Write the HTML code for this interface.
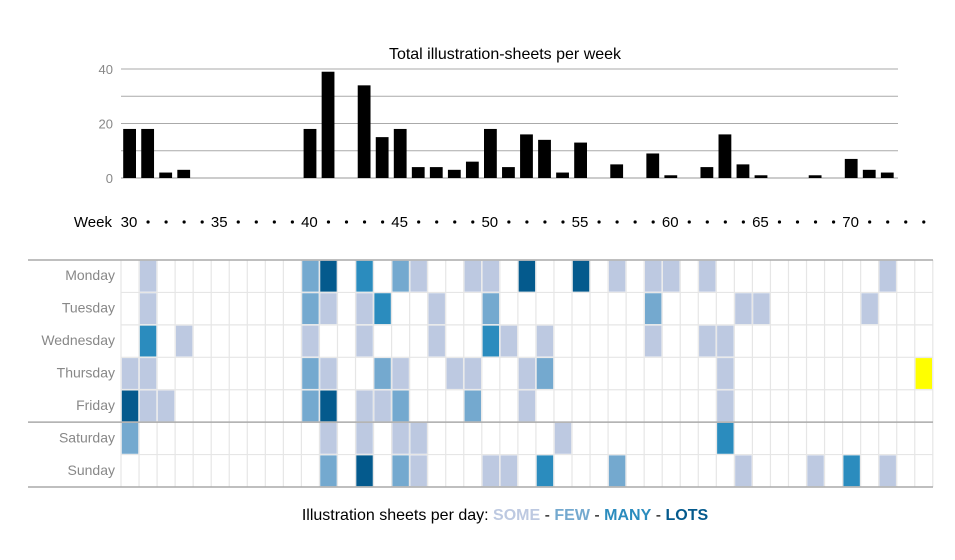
<!DOCTYPE html>
<html><head><meta charset="utf-8">
<style>
html,body{margin:0;padding:0;background:#fff;}
svg{display:block;font-family:"Liberation Sans",Arial,sans-serif;}
</style></head>
<body>
<svg id="chart" width="955" height="560" viewBox="0 0 955 560" xmlns="http://www.w3.org/2000/svg">
<text x="505" y="59" text-anchor="middle" font-size="16" fill="#000">Total illustration-sheets per week</text>
<g id="bars-grid"></g>
<g id="bars"></g>
<g id="week-axis"></g>
<g id="heat"></g>
<text x="505" y="520" text-anchor="middle" font-size="16" fill="#000">Illustration sheets per day: <tspan font-weight="bold" fill="#bdc9e1">SOME</tspan> - <tspan font-weight="bold" fill="#74a9cf">FEW</tspan> - <tspan font-weight="bold" fill="#2b8cbe">MANY</tspan> - <tspan font-weight="bold" fill="#045a8d">LOTS</tspan></text>
</svg>
<script>
const weeks = [];
for (let w = 30; w <= 74; w++) weeks.push(w);
const barWeeks = [30,31,32,33,40,41,43,44,45,46,47,48,49,50,51,52,53,54,55,57,59,60,62,63,64,65,68,70,71,72];
const barValues = [18,18,2,3,18,39,34,15,18,4,4,3,6,18,4,16,14,2,13,5,9,1,4,16,5,1,1,7,3,2];
const yTicks = [0,10,20,30,40];
const yTickLabels = ["0","","20","","40"];
const days = ["Monday","Tuesday","Wednesday","Thursday","Friday","Saturday","Sunday"];
// cells: [weekIndex(0=week30), dayIndex, level 1..4, 5=highlight]
const cells = [
 [1,0,1],[10,0,2],[11,0,4],[13,0,3],[15,0,2],[16,0,1],[19,0,1],[20,0,1],[22,0,4],[25,0,4],[27,0,1],[29,0,1],[30,0,1],[32,0,1],[42,0,1],
 [1,1,1],[10,1,2],[11,1,1],[13,1,1],[14,1,3],[17,1,1],[20,1,2],[29,1,2],[34,1,1],[35,1,1],[41,1,1],
 [1,2,3],[3,2,1],[10,2,1],[13,2,1],[17,2,1],[20,2,3],[21,2,1],[23,2,1],[29,2,1],[32,2,1],[33,2,1],
 [0,3,1],[1,3,1],[10,3,2],[11,3,1],[14,3,2],[15,3,1],[18,3,1],[19,3,1],[22,3,1],[23,3,2],[33,3,1],[44,3,5],
 [0,4,4],[1,4,1],[2,4,1],[10,4,2],[11,4,4],[13,4,1],[14,4,1],[15,4,2],[19,4,2],[22,4,1],[33,4,1],
 [0,5,2],[11,5,1],[13,5,1],[15,5,1],[16,5,1],[24,5,1],[33,5,3],
 [11,6,2],[13,6,4],[15,6,2],[16,6,1],[20,6,1],[21,6,1],[23,6,3],[27,6,2],[34,6,1],[38,6,1],[40,6,3],[42,6,1]
];
const levelColors = ["#fff","#bdc9e1","#74a9cf","#2b8cbe","#045a8d","#ffff00"];

const NS = "http://www.w3.org/2000/svg";
function mk(tag, attrs, parent){ const e=document.createElementNS(NS,tag); for(const k in attrs) e.setAttribute(k,attrs[k]); parent.appendChild(e); return e; }
const x0 = 121, colW = 18.04;
function xCol(i){ return x0 + i*colW; }
function xWeek(w){ return xCol(w-30); }
const yBase = 178, yPer = 2.725;
function yVal(v){ return yBase - v*yPer; }
const rowTop = 260, rowH = 32.43;
function yRow(r){ return rowTop + r*rowH; }

const bg = document.getElementById('bars-grid');
yTicks.forEach((t,i)=>{
  const l = mk('line',{x1:121,x2:898,y1:yVal(t),y2:yVal(t),stroke:t===0?'#999':'#aaa','stroke-width':1},bg);
  
  
  if (yTickLabels[i]) {
    const tx = mk('text',{x:113,y:yVal(t)+5,'text-anchor':'end','font-size':13,fill:'#888'},bg);
    tx.textContent = yTickLabels[i];
    
    
  }
});
const bars = document.getElementById('bars');
barWeeks.forEach((w,i)=>{
  const v = barValues[i];
  const r = mk('rect',{x:xWeek(w)+2.2,y:yVal(v),width:12.8,height:yBase-yVal(v),fill:'#000'},bars);
  
  
});
const wa = document.getElementById('week-axis');
const wl = mk('text',{x:112,y:227,'text-anchor':'end','font-size':15,fill:'#000'},wa);
wl.textContent='Week';


weeks.forEach((w,i)=>{
  const cx = xCol(i)+colW/2;
  if (w%5===0) {
    const t = mk('text',{x:cx-1,y:227,'text-anchor':'middle','font-size':15,fill:'#000'},wa);
    t.textContent = String(w);
    
    
  } else {
    const c = mk('circle',{cx:cx,cy:222,r:1.6,fill:'#000'},wa);
    
    
  }
});
const hm = document.getElementById('heat');
for (let i=0;i<=weeks.length;i++){
  const l = mk('line',{x1:xCol(i),x2:xCol(i),y1:rowTop,y2:yRow(7),stroke:'#e6e6e6','stroke-width':1.2},hm);
  
  
}
for (let r=1;r<7;r++){
  if (r===5) continue;
  const l = mk('line',{x1:x0,x2:xCol(weeks.length),y1:yRow(r),y2:yRow(r),stroke:'#e6e6e6','stroke-width':1.2},hm);
  
  
}
cells.forEach(c=>{
  const [wi,d,lv]=c;
  const r = mk('rect',{x:xCol(wi)+0.8,y:yRow(d)+0.8,width:colW-1.6,height:rowH-1.6,fill:levelColors[lv]},hm);
  
  
});
[0,5,7].forEach(r=>{
  const l = mk('line',{x1:28,x2:933,y1:yRow(r),y2:yRow(r),stroke:'#aaa','stroke-width':1.5},hm);
  
  
});
days.forEach((d,r)=>{
  const t = mk('text',{x:115,y:yRow(r)+rowH/2+4,'text-anchor':'end','font-size':14,fill:'#888'},hm);
  t.textContent = d;
  
  
});
</script>
</body></html>
